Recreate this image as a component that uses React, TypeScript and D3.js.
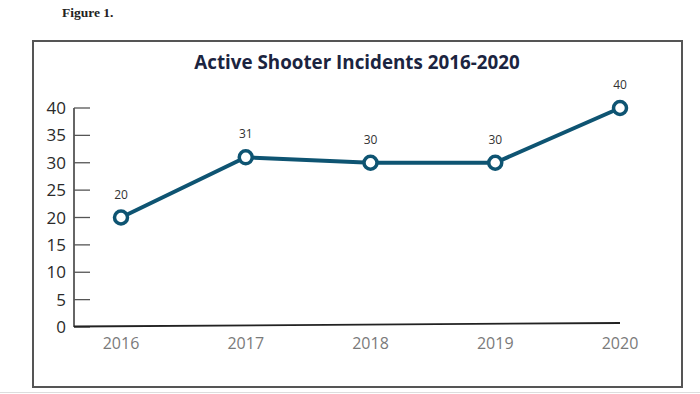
import { useEffect, useRef } from 'react'
import * as d3 from 'd3'

const years = ['2016', '2017', '2018', '2019', '2020']
const incidents = [20, 31, 30, 30, 40]
const yTicks = [0, 5, 10, 15, 20, 25, 30, 35, 40]

export default function App() {
  const svgRef = useRef<SVGSVGElement>(null)
  const width = 700
  const height = 394

  useEffect(() => {
    if (!svgRef.current) return
    const svg = d3.select(svgRef.current)
    svg.selectAll('*').remove()

    svg.append('rect')
      .attr('width', width)
      .attr('height', height)
      .attr('fill', '#fff')

    // caption above the frame
    svg.append('text')
      .attr('x', 62)
      .attr('y', 17)
      .style('font-family', '"Liberation Serif", serif')
      .style('font-weight', 'bold')
      .style('font-size', '13.5px')
      .style('fill', '#222')
      .text('Figure 1.')

    // frame
    svg.append('rect')
      .attr('x', 33)
      .attr('y', 41)
      .attr('width', 649)
      .attr('height', 346)
      .attr('fill', 'none')
      .attr('stroke', '#555')
      .attr('stroke-width', 2)

    svg.append('line')
      .attr('x1', 0).attr('x2', width)
      .attr('y1', 392.5).attr('y2', 392.5)
      .attr('stroke', '#ddd')

    svg.append('text')
      .attr('x', 357)
      .attr('y', 69)
      .attr('text-anchor', 'middle')
      .style('font-family', '"Open Sans", sans-serif')
      .style('font-weight', 'bold')
      .style('font-size', '18.8px')
      .style('fill', '#1b2440')
      .text('Active Shooter Incidents 2016-2020')

    const x = d3.scalePoint()
      .domain(years)
      .range([121, 620])

    const y = d3.scaleLinear()
      .domain([0, 40])
      .range([327, 108])

    const axisX = 74

    // y axis
    svg.append('line')
      .attr('x1', axisX).attr('x2', axisX)
      .attr('y1', y(40)).attr('y2', y(0))
      .attr('stroke', '#333')
      .attr('stroke-width', 1.5)

    svg.selectAll('.ytick')
      .data(yTicks)
      .enter().append('line')
      .attr('class', 'ytick')
      .attr('x1', axisX).attr('x2', 90)
      .attr('y1', d => y(d)).attr('y2', d => y(d))
      .attr('stroke', '#555')
      .attr('stroke-width', 1.3)

    svg.selectAll('.ylabel')
      .data(yTicks)
      .enter().append('text')
      .attr('class', 'ylabel')
      .attr('x', 66)
      .attr('y', d => y(d))
      .attr('dy', '0.36em')
      .attr('text-anchor', 'end')
      .style('font-family', '"Open Sans", sans-serif')
      .style('font-size', '17px')
      .style('fill', '#2a2a2a')
      .text(d => d)

    // x axis baseline
    svg.append('line')
      .attr('x1', axisX).attr('x2', 620)
      .attr('y1', y(0) - 0.5).attr('y2', y(0) - 4)
      .attr('stroke', '#222')
      .attr('stroke-width', 1.8)

    svg.selectAll('.xlabel')
      .data(years)
      .enter().append('text')
      .attr('class', 'xlabel')
      .attr('x', d => x(d) || 0)
      .attr('y', 349)
      .attr('text-anchor', 'middle')
      .style('font-family', '"Open Sans", sans-serif')
      .style('font-size', '16px')
      .style('fill', '#7a7a7a')
      .text(d => d)

    const color = '#0e5472'
    const line = d3.line<number>()
      .x((d, i) => x(years[i]) || 0)
      .y(d => y(d))

    svg.append('path')
      .datum(incidents)
      .attr('d', line)
      .attr('fill', 'none')
      .attr('stroke', color)
      .attr('stroke-width', 4)

    svg.selectAll('.dot')
      .data(incidents)
      .enter().append('circle')
      .attr('class', 'dot')
      .attr('cx', (d, i) => x(years[i]) || 0)
      .attr('cy', d => y(d))
      .attr('r', 6.5)
      .attr('fill', '#fff')
      .attr('stroke', color)
      .attr('stroke-width', 3.5)

    svg.selectAll('.vlabel')
      .data(incidents)
      .enter().append('text')
      .attr('class', 'vlabel')
      .attr('x', (d, i) => x(years[i]) || 0)
      .attr('y', d => y(d) - 19)
      .attr('text-anchor', 'middle')
      .style('font-family', '"Open Sans", sans-serif')
      .style('font-size', '12px')
      .style('fill', '#333')
      .text(d => d)
  }, [])

  return (
    <div style={{ position: 'absolute', left: 0, top: 0 }}>
      <svg ref={svgRef} width={width} height={height} style={{ display: 'block' }} />
    </div>
  )
}
